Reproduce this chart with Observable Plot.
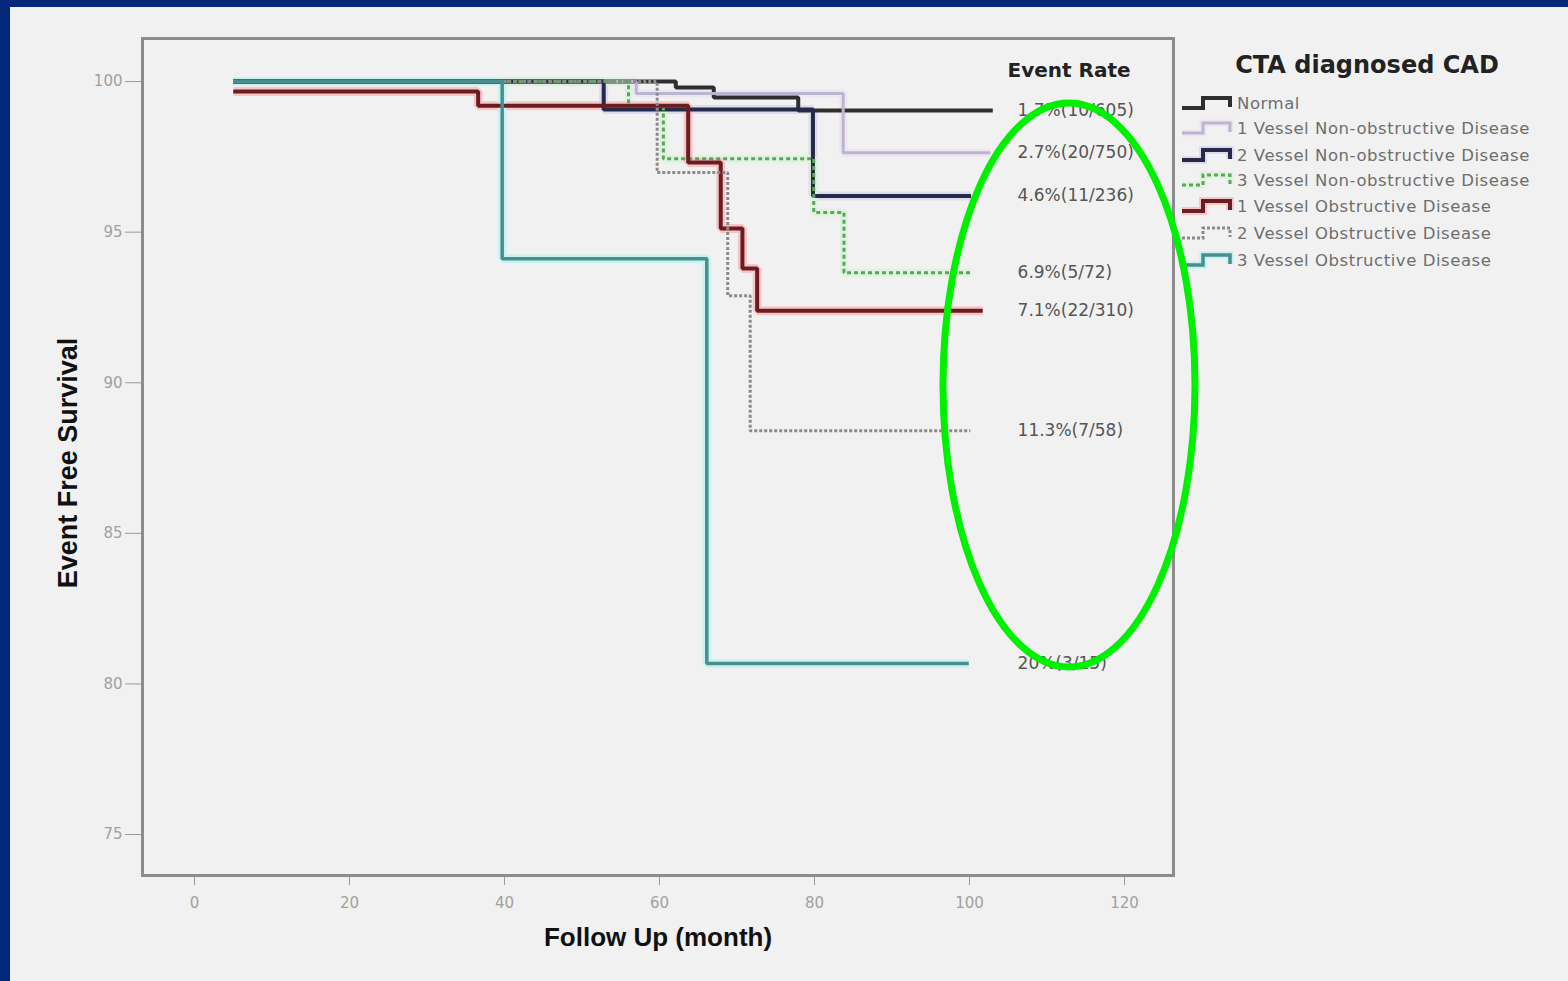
<!DOCTYPE html>
<html>
<head>
<meta charset="utf-8">
<script src="https://cdn.jsdelivr.net/npm/d3@7"></script>
<script src="https://cdn.jsdelivr.net/npm/@observablehq/plot@0.6"></script>
<style>
  html, body { margin: 0; padding: 0; }
  body { width: 1568px; height: 981px; overflow: hidden; position: relative; background: #f1f1f1; font-family: "DejaVu Sans", sans-serif; }
  .blue { position: absolute; background: #05287a; }
  #chart { position: absolute; left: 0; top: 0; }
  .lbl { position: absolute; white-space: nowrap; transform: translate(-50%, -50%); color: #111; }
  .legend-item { position: absolute; left: 1180px; height: 24px; white-space: nowrap; }
  .legend-item svg { position: absolute; left: 0; top: 0; }
  .legend-item span { position: absolute; left: 57px; top: 1px; font-size: 16.5px; letter-spacing: 0.55px; color: #6e6e6e; }
  #overlay { position: absolute; left: 0; top: 0; pointer-events: none; }
</style>
</head>
<body>
<div class="blue" style="left:0;top:0;width:1568px;height:7px"></div>
<div class="blue" style="left:0;top:0;width:10px;height:981px"></div>
<div id="chart"></div>
<div id="legend"></div>
<script>
// ---------- data ----------
const groups = [
  "Normal",
  "1 Vessel Non-obstructive Disease",
  "2 Vessel Non-obstructive Disease",
  "3 Vessel Non-obstructive Disease",
  "1 Vessel Obstructive Disease",
  "2 Vessel Obstructive Disease",
  "3 Vessel Obstructive Disease"
];
const eventRates = ["1.7%(10/605)", "2.7%(20/750)", "4.6%(11/236)", "6.9%(5/72)", "7.1%(22/310)", "11.3%(7/58)", "20%(3/15)"];

// follow-up months (step times) and event-free survival (%) per group
const normalT = [5, 62.1, 67.0, 77.9, 103.0];
const normalS = [100, 99.8, 99.47, 99.04, 99.04];
const v1nT = [5, 57.0, 83.7, 102.7];
const v1nS = [100, 99.6, 97.64, 97.64];
const v2nT = [5, 52.8, 79.8, 100.2];
const v2nS = [100, 99.07, 96.2, 96.2];
const v3nT = [5, 56.0, 60.5, 79.9, 83.8, 100.2];
const v3nS = [100, 99.2, 97.44, 95.65, 93.65, 93.65];
const v1oT = [5, 36.6, 63.7, 67.9, 70.7, 72.6, 101.7];
const v1oS = [99.67, 99.2, 97.31, 95.12, 93.79, 92.39, 92.39];
const v2oT = [5, 59.7, 68.8, 71.7, 100.1];
const v2oS = [100, 96.98, 92.89, 88.41, 88.41];
const v3oT = [5, 39.7, 66.1, 99.9];
const v3oS = [100, 94.12, 80.68, 80.68];

const xTicks = [0, 20, 40, 60, 80, 100, 120];
const yTicks = [75, 80, 85, 90, 95, 100];

// ---------- styles ----------
const times = [normalT, v1nT, v2nT, v3nT, v1oT, v2oT, v3oT];
const survs = [normalS, v1nS, v2nS, v3nS, v1oS, v2oS, v3oS];
const colors = ["#2e2e2e", "#bdb5cf", "#262a48", "#5aa65a", "#6a1c22", "#8a8a8a", "#4a8e8e"];
const widths = [4, 3, 4, 3, 4, 3, 3.5];
const dashes = [null, null, null, "4,3", null, "3,2", null];
const halos = [null, "#ece6f4", "#dcdcec", "#dff2df", "#f6c6c6", null, "#c6f2f2"];

const rows = [];
groups.forEach((g, i) => times[i].forEach((t, j) => rows.push({group: g, t, s: survs[i][j]})));
const endRows = groups.map((g, i) => ({group: g, s: survs[i][survs[i].length - 1], rate: eventRates[i]}));
const rateLabelX = 106.2;

const marks = [];
groups.forEach((g, i) => {
  const data = rows.filter(r => r.group === g);
  if (halos[i]) marks.push(Plot.line(data, {x: "t", y: "s", curve: "step-after", stroke: halos[i], strokeWidth: widths[i] + 5, strokeLinejoin: "miter", strokeLinecap: "butt"}));
});
groups.forEach((g, i) => {
  const data = rows.filter(r => r.group === g);
  marks.push(Plot.line(data, {x: "t", y: "s", curve: "step-after", stroke: colors[i], strokeWidth: widths[i], strokeDasharray: dashes[i] || undefined, strokeLinejoin: "miter", strokeLinecap: "butt"}));
});

const chart = Plot.plot({
  width: 1568,
  height: 981,
  marginLeft: 142,
  marginRight: 395,
  marginTop: 38,
  marginBottom: 106,
  style: {background: "transparent", fontFamily: "DejaVu Sans, sans-serif", fontSize: "15px", color: "#9a9a9a"},
  x: {domain: [-6.71, 126.32], ticks: xTicks, label: null},
  y: {domain: [73.64, 101.43], ticks: yTicks, label: null},
  marks: [
    Plot.axisY({ticks: yTicks, tickSize: 17, tickPadding: 3, label: null, stroke: "#999", fill: "#a0a0a0", fontSize: 15}),
    Plot.axisX({ticks: xTicks, tickSize: 10, tickPadding: 12, label: null, stroke: "#999", fill: "#a0a0a0", fontSize: 15}),
    ...marks,
    Plot.frame({stroke: "#8c8c8c", strokeWidth: 3}),
    Plot.text(endRows, {x: () => rateLabelX, y: "s", text: "rate", textAnchor: "start", fontSize: 17, fill: "#555"})
  ]
});
document.getElementById("chart").appendChild(chart);

// ---------- titles, axis labels, legend ----------
function addLabel(text, x, y, css) {
  const d = document.createElement("div");
  d.className = "lbl";
  d.textContent = text;
  d.style.left = x + "px";
  d.style.top = y + "px";
  Object.assign(d.style, css);
  document.body.appendChild(d);
  return d;
}
addLabel("Event Free Survival", 68, 463, {font: "bold 27px 'Liberation Sans', Arial, sans-serif", transform: "translate(-50%,-50%) rotate(-90deg)"});
addLabel("Follow Up (month)", 658, 937, {font: "bold 26px 'Liberation Sans', Arial, sans-serif"});
addLabel("Event Rate", 1069, 70, {font: "bold 20px 'DejaVu Sans', sans-serif", color: "#222"});
addLabel("CTA diagnosed CAD", 1367, 65, {font: "bold 24px 'DejaVu Sans', sans-serif", color: "#222"});

const legendY = [105, 130, 157, 182, 208, 235, 262];
const legend = document.getElementById("legend");
groups.forEach((g, i) => {
  const item = document.createElement("div");
  item.className = "legend-item";
  item.style.top = (legendY[i] - 12) + "px";
  const ns = "http://www.w3.org/2000/svg";
  const svg = document.createElementNS(ns, "svg");
  svg.setAttribute("width", 56); svg.setAttribute("height", 24);
  const dPath = "M2,15 H23 V5 H50 V14";
  if (halos[i]) {
    const h = document.createElementNS(ns, "path");
    h.setAttribute("d", dPath); h.setAttribute("fill", "none");
    h.setAttribute("stroke", halos[i]); h.setAttribute("stroke-width", widths[i] + 4);
    svg.appendChild(h);
  }
  const p = document.createElementNS(ns, "path");
  p.setAttribute("d", dPath); p.setAttribute("fill", "none");
  p.setAttribute("stroke", colors[i]); p.setAttribute("stroke-width", widths[i]);
  if (dashes[i]) p.setAttribute("stroke-dasharray", dashes[i]);
  svg.appendChild(p);
  item.appendChild(svg);
  const s = document.createElement("span");
  s.textContent = g;
  item.appendChild(s);
  legend.appendChild(item);
});

// ---------- green highlight ellipse (annotation) ----------
const ns = "http://www.w3.org/2000/svg";
const ov = document.createElementNS(ns, "svg");
ov.setAttribute("id", "overlay");
ov.setAttribute("width", 1568); ov.setAttribute("height", 981);
const el = document.createElementNS(ns, "ellipse");
el.setAttribute("cx", 1069); el.setAttribute("cy", 385);
el.setAttribute("rx", 126); el.setAttribute("ry", 282);
el.setAttribute("fill", "none"); el.setAttribute("stroke", "#00f000"); el.setAttribute("stroke-width", 7);
ov.appendChild(el);
document.body.appendChild(ov);
</script>
</body>
</html>
